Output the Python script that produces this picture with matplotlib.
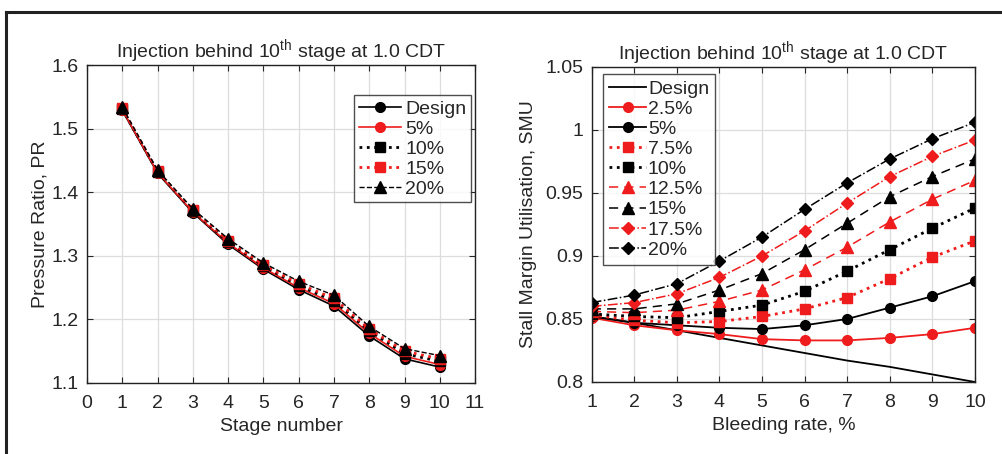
import matplotlib
matplotlib.use('Agg')
import matplotlib.pyplot as plt
from matplotlib.lines import Line2D

plt.rcParams['font.family'] = ['Liberation Sans', 'DejaVu Sans']
plt.rcParams['mathtext.fontset'] = 'custom'
plt.rcParams['mathtext.rm'] = 'Liberation Sans'
plt.rcParams['font.size'] = 14
plt.rcParams['text.color'] = '#262626'
plt.rcParams['xtick.color'] = '#262626'
plt.rcParams['ytick.color'] = '#262626'
plt.rcParams['axes.labelcolor'] = '#262626'

# left panel: pressure ratio per stage
stages = [1, 2, 3, 4, 5, 6, 7, 8, 9, 10]
pr_design = [1.529, 1.430, 1.368, 1.318, 1.279, 1.247, 1.221, 1.174, 1.138, 1.125]
pr_5 = [1.530, 1.431, 1.369, 1.320, 1.281, 1.250, 1.225, 1.178, 1.142, 1.129]
pr_10 = [1.531, 1.432, 1.371, 1.322, 1.284, 1.253, 1.229, 1.182, 1.146, 1.134]
pr_15 = [1.532, 1.433, 1.372, 1.324, 1.286, 1.256, 1.233, 1.185, 1.150, 1.138]
pr_20 = [1.534, 1.435, 1.374, 1.327, 1.289, 1.260, 1.238, 1.189, 1.154, 1.143]
left_labels = ['Design', '5%', '10%', '15%', '20%']

# right panel: SMU vs bleeding rate
bleed = [1, 2, 3, 4, 5, 6, 7, 8, 9, 10]
smu_design = [0.852, 0.847, 0.841, 0.835, 0.829, 0.823, 0.817, 0.812, 0.806, 0.800]
smu_2p5 = [0.851, 0.845, 0.841, 0.838, 0.834, 0.833, 0.833, 0.835, 0.838, 0.843]
smu_5 = [0.852, 0.847, 0.845, 0.843, 0.842, 0.845, 0.850, 0.859, 0.868, 0.880]
smu_7p5 = [0.853, 0.849, 0.847, 0.848, 0.852, 0.858, 0.867, 0.882, 0.899, 0.912]
smu_10 = [0.854, 0.852, 0.851, 0.856, 0.861, 0.872, 0.888, 0.905, 0.922, 0.938]
smu_12p5 = [0.856, 0.855, 0.857, 0.864, 0.873, 0.889, 0.907, 0.927, 0.945, 0.960]
smu_15 = [0.858, 0.858, 0.862, 0.873, 0.886, 0.905, 0.926, 0.947, 0.963, 0.977]
smu_17p5 = [0.860, 0.863, 0.870, 0.883, 0.900, 0.920, 0.942, 0.963, 0.979, 0.992]
smu_20 = [0.863, 0.869, 0.878, 0.896, 0.915, 0.937, 0.958, 0.977, 0.993, 1.006]
right_labels = ['Design', '2.5%', '5%', '7.5%', '10%', '12.5%', '15%', '17.5%', '20%']

red = '#ee1c1c'
title = 'Injection behind 10$^{\\mathrm{th}}$ stage at 1.0 CDT'
fs = 14

fig = plt.figure(figsize=(10.03, 4.54), dpi=100)

# frame border (top and left visible)
fig.add_artist(Line2D([0.006, 0.006], [0.0, 0.974], color='#222222', lw=2.2))
fig.add_artist(Line2D([0.006, 1.0], [0.974, 0.974], color='#222222', lw=2.2))


def style_axes(ax):
    ax.grid(True, color='#dddddd', lw=0.9)
    ax.set_axisbelow(True)
    ax.tick_params(direction='in', top=True, right=True, length=4, labelsize=fs)
    ax.tick_params(axis='x', pad=9)
    ax.tick_params(axis='y', pad=6)
    for s in ax.spines.values():
        s.set_linewidth(1.0)
        s.set_color('#222222')


ax1 = fig.add_axes([0.0867, 0.1564, 0.387, 0.700])
ax1.plot(stages, pr_design, '-o', color='black', lw=1.2, ms=7, label=left_labels[0])
ax1.plot(stages, pr_5, '-o', color=red, lw=1.2, ms=7, label=left_labels[1])
ax1.plot(stages, pr_10, ':s', color='black', lw=2.0, ms=6.5, label=left_labels[2])
ax1.plot(stages, pr_15, ':s', color=red, lw=2.0, ms=6.5, label=left_labels[3])
ax1.plot(stages, pr_20, '--^', color='black', lw=1.0, ms=8, label=left_labels[4])
ax1.set_xlim(0, 11)
ax1.set_ylim(1.1, 1.6)
ax1.set_xticks(range(0, 12))
ax1.set_yticks([1.1, 1.2, 1.3, 1.4, 1.5, 1.6])
ax1.set_xlabel('Stage number', fontsize=fs, labelpad=4)
ax1.set_ylabel('Pressure Ratio, PR', fontsize=fs, labelpad=2)
ax1.set_title(title, fontsize=fs, pad=5)
style_axes(ax1)
leg1 = ax1.legend(loc='upper right', bbox_to_anchor=(0.99, 0.905), fontsize=fs,
                  frameon=True, fancybox=False, edgecolor='#222222', handlelength=2.2,
                  handletextpad=0.2, borderpad=0.25, labelspacing=0.12, borderaxespad=0)
leg1.get_frame().set_linewidth(1.0)

ax2 = fig.add_axes([0.590, 0.1586, 0.382, 0.694])
ax2.plot(bleed, smu_design, '-', color='black', lw=1.3, label=right_labels[0])
ax2.plot(bleed, smu_2p5, '-o', color=red, lw=1.3, ms=7, label=right_labels[1])
ax2.plot(bleed, smu_5, '-o', color='black', lw=1.3, ms=7, label=right_labels[2])
ax2.plot(bleed, smu_7p5, ':s', color=red, lw=2.0, ms=6.5, label=right_labels[3])
ax2.plot(bleed, smu_10, ':s', color='black', lw=2.0, ms=6.5, label=right_labels[4])
ax2.plot(bleed, smu_12p5, '--^', color=red, lw=1.1, ms=8, dashes=(6, 4), label=right_labels[5])
ax2.plot(bleed, smu_15, '--^', color='black', lw=1.1, ms=8, dashes=(6, 4), label=right_labels[6])
ax2.plot(bleed, smu_17p5, '-.D', color=red, lw=1.1, ms=6.5, label=right_labels[7])
ax2.plot(bleed, smu_20, '-.D', color='black', lw=1.1, ms=6.5, label=right_labels[8])
ax2.set_xlim(1, 10)
ax2.set_ylim(0.8, 1.05)
ax2.set_xticks(range(1, 11))
ax2.set_yticks([0.8, 0.85, 0.9, 0.95, 1.0, 1.05])
ax2.set_yticklabels(['0.8', '0.85', '0.9', '0.95', '1', '1.05'])
ax2.set_xlabel('Bleeding rate, %', fontsize=fs, labelpad=4)
ax2.set_ylabel('Stall Margin Utilisation, SMU', fontsize=fs, labelpad=6)
ax2.set_title(title, fontsize=fs, pad=5)
style_axes(ax2)
leg2 = ax2.legend(loc='upper left', bbox_to_anchor=(0.03, 0.977), fontsize=fs,
                  frameon=True, fancybox=False, edgecolor='#222222', handlelength=1.9,
                  handletextpad=0.1, borderpad=0.3, labelspacing=0.13, borderaxespad=0)
leg2.get_frame().set_linewidth(1.0)

fig.savefig('out.png', dpi=100, facecolor='white')
